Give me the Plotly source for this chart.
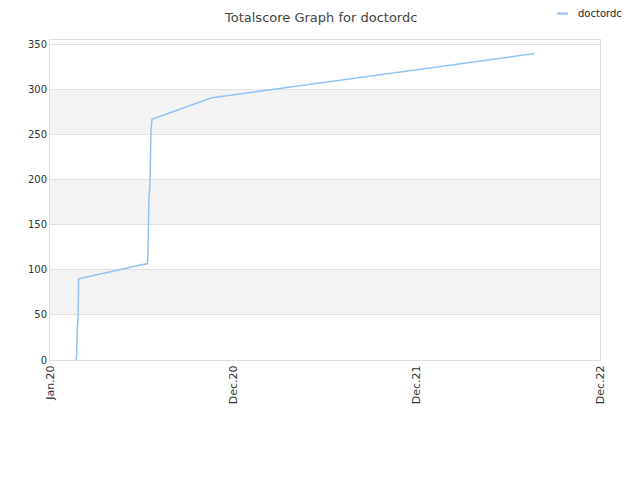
import plotly.graph_objects as go

dates = ["2020-02-22", "2020-02-23", "2020-02-24", "2020-02-26", "2020-02-27",
         "2020-07-13", "2020-07-14", "2020-07-16", "2020-07-18", "2020-07-20",
         "2020-07-22", "2020-11-18", "2022-08-23"]
scores = [0, 5, 30, 50, 90, 107, 120, 181, 193, 254, 267, 291, 340]

tick_dates = ["2020-01-01", "2020-12-31", "2021-12-31", "2022-12-31"]
tick_labels = ["Jan.20", "Dec.20", "Dec.21", "Dec.22"]
y_ticks = [0, 50, 100, 150, 200, 250, 300, 350]
band_ranges = [(50, 100), (150, 200), (250, 300)]
series_name = "doctordc"
title_text = "Totalscore Graph for doctordc"
line_color = "#90c3f5"

# page has an 8px body margin; figure sized to fit the 640x480 window
OFF = 8
W, H = 640 - OFF, 480 - OFF
L, T = 50 - OFF, 40 - OFF
PW, PH = 550, 320

fig = go.Figure()
fig.add_trace(go.Scatter(x=dates, y=scores, mode="lines", name=series_name,
                         line=dict(color=line_color, width=1.5), showlegend=False))

for lo, hi in band_ranges:
    fig.add_shape(type="rect", xref="paper", yref="y", x0=0, x1=1, y0=lo, y1=hi,
                  fillcolor="#f3f3f3", line=dict(width=0), layer="below")

# title as annotation kept inside the figure
fig.add_annotation(text=title_text, xref="paper", yref="paper",
                   x=(320 - 50) / PW, y=1 + (T - 0.5) / PH, xanchor="center",
                   yanchor="top", showarrow=False, borderpad=0,
                   font=dict(size=13, color="#444"))

# legend-like key (short line + label) at top right
key_y = 1 + (40 - 13.5) / PH
fig.add_shape(type="line", xref="paper", yref="paper",
              x0=(557 - 50) / PW, x1=(568 - 50) / PW, y0=key_y, y1=key_y,
              line=dict(color="#a0cbf5", width=2.5))
fig.add_annotation(text=series_name, xref="paper", yref="paper",
                   x=(576 - 50) / PW, y=key_y, xanchor="left",
                   yanchor="middle", showarrow=False,
                   font=dict(size=10, color="#222"))

fig.update_layout(
    width=W, height=H,
    paper_bgcolor="white", plot_bgcolor="white",
    font=dict(family="DejaVu Sans", size=10, color="#333"),
    margin=dict(l=L, r=W - L - PW, t=T, b=H - T - PH, autoexpand=False),
    showlegend=False,
    xaxis=dict(type="date", range=[tick_dates[0], tick_dates[-1]],
               tickvals=tick_dates, ticktext=tick_labels, tickangle=-90,
               showgrid=False, showline=True, linecolor="#ddd", mirror=True,
               zeroline=False, ticks="", automargin=False,
               tickfont=dict(size=11, color="#333")),
    yaxis=dict(range=[0, 355], tickvals=y_ticks, showgrid=True, gridcolor="#e0e0e0",
               showline=True, linecolor="#ddd", mirror=True, zeroline=False,
               ticks="", automargin=False, tickfont=dict(size=10, color="#333")),
)

fig.write_html("out.html")
